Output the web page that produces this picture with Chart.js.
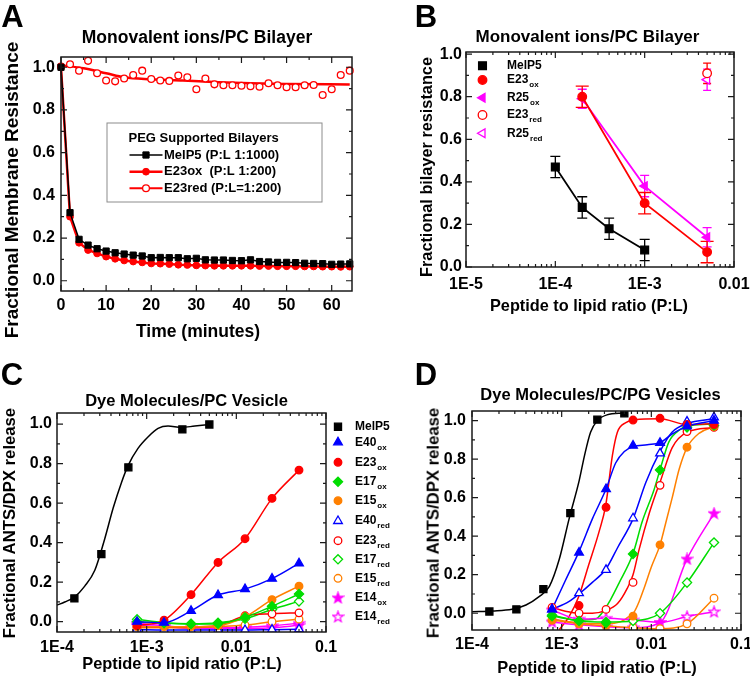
<!DOCTYPE html>
<html>
<head>
<meta charset="utf-8">
<title>Membrane permeabilisation panels</title>
<script src="https://cdn.jsdelivr.net/npm/chart.js@4.4.1/dist/chart.umd.min.js"></script>
<style>
  body { margin: 0; background: #fff; }
  #fig { position: relative; width: 750px; height: 678px; overflow: hidden;
         font-family: 'Liberation Sans', Arial, sans-serif; font-weight: bold; color: #000; }
  #fig canvas { position: absolute; }
  .lbl { position: absolute; white-space: nowrap; line-height: 1; transform: translate(-50%, -50%); }
  .rot { transform: translate(-50%, -50%) rotate(-90deg); }
  .tag { font-size: 31px; }
</style>
</head>
<body>
<div id="fig">
  <canvas id="chartA" width="372" height="345" style="left:0;top:0"></canvas>
  <canvas id="chartB" width="388" height="330" style="left:372px;top:0"></canvas>
  <canvas id="chartC" width="400" height="333" style="left:0;top:345px"></canvas>
  <canvas id="chartD" width="362" height="333" style="left:400px;top:345px"></canvas>

  <div class="lbl tag" style="left:12.5px;top:16px">A</div>
  <div class="lbl tag" style="left:426px;top:16px">B</div>
  <div class="lbl tag" style="left:12px;top:373.5px">C</div>
  <div class="lbl tag" style="left:426px;top:373.5px">D</div>

  <div class="lbl" style="left:197px;top:38px;font-size:17.5px">Monovalent ions/PC Bilayer</div>
  <div class="lbl" style="left:587.5px;top:36px;font-size:17px">Monovalent ions/PC Bilayer</div>
  <div class="lbl" style="left:186.5px;top:400px;font-size:16.5px">Dye Molecules/PC Vesicle</div>
  <div class="lbl" style="left:600.5px;top:393.5px;font-size:16.5px">Dye Molecules/PC/PG Vesicles</div>

  <div class="lbl" style="left:198px;top:331.5px;font-size:17.5px">Time (minutes)</div>
  <div class="lbl rot" style="left:10.5px;top:190px;font-size:19px">Fractional Membrane Resistance</div>
  <div class="lbl" style="left:589px;top:305px;font-size:16.3px">Peptide to lipid ratio (P:L)</div>
  <div class="lbl rot" style="left:426px;top:167px;font-size:16.3px">Fractional bilayer resistance</div>
  <div class="lbl" style="left:182px;top:663px;font-size:16.4px">Peptide to lipid ratio (P:L)</div>
  <div class="lbl rot" style="left:10px;top:522.5px;font-size:16.7px">Fractional ANTS/DPX release</div>
  <div class="lbl" style="left:597px;top:667px;font-size:16.4px">Peptide to lipid ratio (P:L)</div>
  <div class="lbl rot" style="left:433.5px;top:522.5px;font-size:16.7px">Fractional ANTS/DPX release</div>
</div>

<script>
// ── Data: panel A (resistance vs time) ───────────────────────────────────────
const A_TIME   = [0,2,4,6,8,10,12,14,16,18,20,22,24,26,28,30,32,34,36,38,40,42,44,46,48,50,52,54,56,58,60,62,64];
const A_MELP5  = [1.0,0.319,0.194,0.167,0.15,0.139,0.131,0.125,0.12,0.116,0.108,0.109,0.108,0.108,0.103,0.105,0.098,0.097,0.097,0.095,0.094,0.098,0.09,0.088,0.086,0.086,0.085,0.082,0.081,0.08,0.077,0.078,0.079];
const A_E23OX  = [1.0,0.30,0.178,0.144,0.128,0.113,0.103,0.095,0.09,0.086,0.081,0.08,0.078,0.075,0.074,0.072,0.071,0.07,0.07,0.07,0.07,0.07,0.069,0.069,0.068,0.068,0.068,0.067,0.067,0.066,0.066,0.065,0.066];
const A_E23RED = [1.003,1.014,0.984,1.03,0.972,0.938,0.934,0.947,0.964,0.984,0.945,0.938,0.936,0.961,0.953,0.897,0.947,0.92,0.916,0.916,0.913,0.911,0.909,0.925,0.916,0.906,0.906,0.916,0.917,0.87,0.897,0.964,0.984];
const A_FIT_X  = [0,5,10,14,20,27,35,42,50,64];
const A_FIT_Y  = [1.01,0.995,0.972,0.953,0.944,0.938,0.93,0.925,0.922,0.919];
const A_X_TICKS = [0,10,20,30,40,50,60];
const A_X_LABELS = ['0','10','20','30','40','50','60'];

// ── Data: panel B (resistance vs P:L) ────────────────────────────────────────
const B_MEL_X = [1e-4, 2e-4, 4e-4, 1e-3];
const B_MEL_Y = [0.47, 0.28, 0.18, 0.08];
const B_MEL_ERR = [0.05, 0.05, 0.05, 0.05];
const B_OX_X = [2e-4, 1e-3, 5e-3];
const B_E23OX_Y = [0.80, 0.30, 0.07];
const B_E23OX_ERR = [0.05, 0.05, 0.05];
const B_R25OX_Y = [0.79, 0.38, 0.14];
const B_R25OX_ERR = [0.045, 0.05, 0.045];
const B_RED_X = [5e-3];
const B_E23RED_Y = [0.91];
const B_E23RED_ERR = [0.048];
const B_R25RED_Y = [0.88];
const B_R25RED_ERR = [0.05];
const B_X_TICKS = [1e-5, 1e-4, 1e-3, 1e-2];
const B_X_LABELS = ['1E-5', '1E-4', '1E-3', '0.01'];

// ── Data: panels C and D (dye release vs P:L) ────────────────────────────────
const PL_X = [7.8125e-4, 1.5625e-3, 3.125e-3, 6.25e-3, 0.0125, 0.025, 0.05];
const CD_X_TICKS = [1e-4, 1e-3, 1e-2, 1e-1];
const CD_X_LABELS = ['1E-4', '1E-3', '0.01', '0.1'];

const C_MEL_X = [1.5625e-4, 3.125e-4, 6.25e-4, 2.5e-3, 5e-3];
const C_MEL_Y = [0.118, 0.342, 0.781, 0.973, 0.998];
const C_MEL_FIT_X = [1e-4,1.22e-4,1.58e-4,2.04e-4,2.64e-4,3.41e-4,4.23e-4,5.24e-4,6.2e-4,8.0e-4,1.04e-3,1.34e-3,1.73e-3,2.44e-3,3.44e-3,5e-3];
const C_MEL_FIT_Y = [0.084,0.10,0.126,0.18,0.26,0.42,0.575,0.705,0.79,0.877,0.936,0.978,0.99,0.983,0.99,0.997];
const C_E40OX  = [0.0, -0.005, 0.055, 0.135, 0.165, 0.218, 0.295];
const C_E23OX  = [-0.02, 0.008, 0.137, 0.30, 0.42, 0.624, 0.767];
const C_E17OX  = [0.0, -0.008, -0.012, -0.01, 0.022, 0.078, 0.14];
const C_E15OX  = [-0.025, -0.025, -0.025, -0.02, 0.025, 0.112, 0.18];
const C_E40RED = [-0.04, -0.042, -0.042, -0.042, -0.042, -0.04, -0.038];
const C_E23RED = [-0.025, -0.025, -0.025, -0.02, 0.03, 0.04, 0.045];
const C_E17RED = [0.012, -0.005, -0.01, -0.005, 0.015, 0.062, 0.103];
const C_E15RED = [-0.03, -0.03, -0.03, -0.025, -0.017, 0.0, 0.013];
const C_E14OX  = [-0.018, -0.025, -0.034, -0.035, -0.034, -0.03, -0.018];
const C_E14RED = [-0.008, -0.02, -0.03, -0.03, -0.028, -0.02, -0.008];

const D_MEL_X = [1.5625e-4, 3.125e-4, 6.25e-4, 1.25e-3, 2.5e-3, 5e-3];
const D_MEL_Y = [0.009, 0.02, 0.125, 0.52, 1.005, 1.038];
const D_E40OX  = [0.02, 0.315, 0.645, 0.87, 0.885, 0.97, 1.0];
const D_E23OX  = [null, 0.04, 0.55, 1.003, 1.012, 0.98, 0.98];
const D_E17OX  = [-0.015, -0.04, -0.05, 0.308, 0.744, 0.965, 0.975];
const D_E15OX  = [-0.035, -0.055, -0.06, -0.015, 0.355, 0.862, 0.969];
const D_E40RED = [0.02, 0.104, 0.225, 0.493, 0.83, 0.995, 1.017];
const D_E23RED = [0.03, 0.0, 0.02, 0.16, 0.664, 0.943, 0.965];
const D_E17RED = [-0.01, -0.04, -0.045, -0.04, 0.0, 0.159, 0.367];
const D_E15RED = [-0.035, -0.055, -0.065, -0.075, -0.08, -0.055, 0.078];
const D_E14OX  = [-0.045, -0.06, -0.07, -0.075, -0.048, 0.282, 0.519];
const D_E14RED = [0.017, -0.03, -0.026, -0.035, -0.048, -0.017, 0.008];

// fitted curves
const D_MEL_FIT_X = [1e-4,1.7e-4,2.8e-4,4e-4,5.6e-4,7.3e-4,9.4e-4,1.21e-3,1.57e-3,1.8e-3,2.1e-3,2.5e-3,3.2e-3,5e-3];
const D_MEL_FIT_Y = [0.008,0.012,0.021,0.043,0.086,0.14,0.28,0.49,0.69,0.82,0.94,1.0,1.03,1.04];
const D_E40OX_FIT_X = [7.8e-4,1.1e-3,1.56e-3,2.2e-3,3.125e-3,4.0e-3,5e-3,6.25e-3,9e-3,0.0125,0.017,0.025,0.05];
const D_E40OX_FIT_Y = [0.02,0.17,0.32,0.49,0.645,0.78,0.84,0.865,0.875,0.885,0.93,0.97,1.0];
const D_E40RED_FIT_X = [7.8e-4,1.2e-3,1.56e-3,2.2e-3,3.125e-3,4.2e-3,6.25e-3,8.7e-3,0.0125,0.017,0.025,0.05];
const D_E40RED_FIT_Y = [0.02,0.06,0.10,0.16,0.23,0.34,0.49,0.68,0.84,0.94,0.985,1.01];
const D_E23OX_FIT_X = [9.4e-4,1.2e-3,1.56e-3,2.0e-3,2.6e-3,3.1e-3,3.68e-3,4.18e-3,5.2e-3,6.5e-3,0.0125,0.025,0.05];
const D_E23OX_FIT_Y = [-0.085,-0.02,0.09,0.25,0.42,0.56,0.82,0.94,0.99,1.005,1.01,0.98,0.985];
const D_E23RED_FIT_X = [7.8e-4,1.1e-3,1.56e-3,2.2e-3,3.125e-3,4.2e-3,5.4e-3,6.25e-3,7.3e-3,9.5e-3,0.0112,0.0125,0.0171,0.025,0.05];
const D_E23RED_FIT_Y = [0.03,0.01,0.0,0.0,0.015,0.05,0.13,0.2,0.33,0.52,0.62,0.68,0.86,0.94,0.965];
const D_E17OX_FIT_X = [7.8e-4,1.56e-3,2.4e-3,2.8e-3,3.5e-3,4.4e-3,6.25e-3,7.9e-3,0.0107,0.0125,0.0157,0.0204,0.028,0.05];
const D_E17OX_FIT_Y = [-0.015,-0.035,-0.03,0.0,0.07,0.16,0.31,0.475,0.64,0.745,0.89,0.95,0.975,0.983];
const D_E15OX_FIT_X = [7.8e-4,1.56e-3,3.125e-3,4.5e-3,5.5e-3,6.5e-3,7.3e-3,8.3e-3,0.01,0.0125,0.0145,0.0171,0.0205,0.025,0.034,0.05];
const D_E15OX_FIT_Y = [-0.03,-0.05,-0.055,-0.045,-0.02,0.01,0.06,0.13,0.24,0.355,0.47,0.6,0.75,0.86,0.934,0.968];

const Y_TICKS  = [0, 0.2, 0.4, 0.6, 0.8, 1.0];
const Y_LABELS = ['0.0', '0.2', '0.4', '0.6', '0.8', '1.0'];
const Y_MINOR  = [0.1, 0.3, 0.5, 0.7, 0.9];

// ── Look ─────────────────────────────────────────────────────────────────────
const FONT = "'Liberation Sans', Arial, sans-serif";
Chart.defaults.font.family = FONT;
Chart.defaults.font.weight = 'bold';
Chart.defaults.font.size = 16;
Chart.defaults.color = '#000';
Chart.defaults.animation = false;

const LOOK = {
  MelP5:  { color: '#000000', shape: 'rect',     filled: true  },
  E40ox:  { color: '#0000ff', shape: 'triangle', filled: true  },
  E23ox:  { color: '#ff0000', shape: 'circle',   filled: true  },
  E17ox:  { color: '#00dd00', shape: 'rectRot',  filled: true  },
  E15ox:  { color: '#ff8000', shape: 'circle',   filled: true  },
  E40red: { color: '#0000ff', shape: 'triangle', filled: false },
  E23red: { color: '#ff0000', shape: 'circle',   filled: false },
  E17red: { color: '#00dd00', shape: 'rectRot',  filled: false },
  E15red: { color: '#ff8000', shape: 'circle',   filled: false },
  E14ox:  { color: '#ff00ff', shape: 'star',     filled: true  },
  E14red: { color: '#ff00ff', shape: 'star',     filled: false },
  R25ox:  { color: '#ff00ff', shape: 'triLeft',  filled: true  },
  R25red: { color: '#ff00ff', shape: 'triLeft',  filled: false },
};
const SIZE = { rect: 5, triangle: 5, triLeft: 5, circle: 3.8, rectRot: 4.6, star: 5 };

function starImage(color, filled) {
  const c = document.createElement('canvas');
  c.width = c.height = 13;
  const g = c.getContext('2d');
  g.beginPath();
  for (let i = 0; i < 10; i++) {
    const r = i % 2 ? 2.3 : 5.6;
    const a = -Math.PI / 2 + i * Math.PI / 5;
    g.lineTo(6.5 + r * Math.cos(a), 6.9 + r * Math.sin(a));
  }
  g.closePath();
  g.fillStyle = filled ? color : '#fff';
  g.fill();
  g.strokeStyle = color;
  g.lineWidth = 1.2;
  g.stroke();
  return c;
}

function logMinors(lo, hi) {
  const out = [];
  for (let e = lo; e < hi; e++) for (let k = 2; k < 10; k++) out.push(k * Math.pow(10, e));
  return out;
}

function pts(xs, ys) {
  return xs.map((x, i) => ({ x, y: ys[i] })).filter(p => p.y !== null);
}

function series(name, xs, ys, extra) {
  const look = LOOK[name];
  const parts = name.match(/^(.*?)(ox|red)?$/);
  return Object.assign({
    keyLabel: parts[1], keySub: parts[2] || '',
    data: pts(xs, ys),
    showLine: false,
    borderColor: look.color, borderWidth: 1.5,
    pointStyle: look.shape === 'star' ? starImage(look.color, look.filled)
              : look.shape === 'triLeft' ? 'triangle' : look.shape,
    pointRotation: look.shape === 'triLeft' ? -90 : 0,
    pointRadius: SIZE[look.shape],
    pointBackgroundColor: look.filled ? look.color : '#ffffff',
    pointBorderColor: look.color,
    pointBorderWidth: 1.3,
    cubicInterpolationMode: 'monotone',
  }, extra || {});
}

function fit(color, xs, ys, width) {
  return { data: pts(xs, ys), showLine: true, borderColor: color, borderWidth: width || 1.5,
           pointRadius: 0, cubicInterpolationMode: 'monotone' };
}

// ── Plugins ──────────────────────────────────────────────────────────────────
// box round the plot with inward major/minor ticks on all four sides
const frame = {
  id: 'frame',
  afterDatasetsDraw(chart, args, opts) {
    const { ctx, chartArea: a, scales: { x, y } } = chart;
    ctx.save();
    ctx.strokeStyle = '#1a1a1a';
    ctx.lineWidth = 1.5;
    ctx.strokeRect(a.left, a.top, a.right - a.left, a.bottom - a.top);
    ctx.lineWidth = 1.2;
    ctx.beginPath();
    const xt = (v, len) => {
      const p = x.getPixelForValue(v);
      ctx.moveTo(p, a.bottom); ctx.lineTo(p, a.bottom - len);
      ctx.moveTo(p, a.top);    ctx.lineTo(p, a.top + len);
    };
    const yt = (v, len) => {
      const p = y.getPixelForValue(v);
      ctx.moveTo(a.left, p);  ctx.lineTo(a.left + len, p);
      ctx.moveTo(a.right, p); ctx.lineTo(a.right - len, p);
    };
    x.ticks.forEach(t => xt(t.value, 6));
    y.ticks.forEach(t => yt(t.value, 6));
    (opts.xMinor || []).filter(v => v > x.min && v < x.max).forEach(v => xt(v, 3));
    (opts.yMinor || []).filter(v => v > y.min && v < y.max).forEach(v => yt(v, 3));
    ctx.stroke();
    ctx.restore();
  }
};

const errorBars = {
  id: 'errorBars',
  beforeDatasetsDraw(chart) {
    const { ctx, scales: { y } } = chart;
    const sets = chart.data.datasets;
    for (let i = sets.length - 1; i >= 0; i--) {
      const ds = sets[i];
      if (!ds.errs) continue;
      const meta = chart.getDatasetMeta(i);
      ctx.save();
      ctx.strokeStyle = ds.borderColor;
      ctx.lineWidth = 1.3;
      meta.data.forEach((p, j) => {
        const v = ds.data[j].y, e = ds.errs[j], c = ds.cap || 5;
        const t = y.getPixelForValue(v + e), b = y.getPixelForValue(v - e);
        ctx.beginPath();
        ctx.moveTo(p.x, t); ctx.lineTo(p.x, b);
        ctx.moveTo(p.x - c, t); ctx.lineTo(p.x + c, t);
        ctx.moveTo(p.x - c, b); ctx.lineTo(p.x + c, b);
        ctx.stroke();
      });
      ctx.restore();
    }
  }
};

const drawMark = (Chart.helpers && Chart.helpers.drawPoint) || function (ctx, o, x, y) {
  ctx.beginPath(); ctx.arc(x, y, o.radius, 0, Math.PI * 2); ctx.fill(); ctx.stroke();
};

// legend built from the datasets that carry a keyLabel
const key = {
  id: 'key',
  afterDraw(chart, args, o) {
    if (!o.rows) return;
    const ctx = chart.ctx;
    const items = chart.data.datasets.filter(d => d.keyLabel);
    ctx.save();
    if (o.box) {
      ctx.strokeStyle = '#8c8c8c'; ctx.lineWidth = 1;
      ctx.strokeRect(o.box[0], o.box[1], o.box[2], o.box[3]);
    }
    ctx.textBaseline = 'middle';
    ctx.textAlign = 'left';
    ctx.fillStyle = '#000';
    if (o.title) { ctx.font = o.font; ctx.fillText(o.title, o.titleX, o.titleY); }
    items.forEach((d, i) => {
      const yy = o.rows[i];
      if (o.lineTo) {
        ctx.strokeStyle = d.borderColor; ctx.lineWidth = d.borderWidth;
        ctx.beginPath(); ctx.moveTo(o.lineFrom, yy); ctx.lineTo(o.lineTo, yy); ctx.stroke();
      }
      ctx.fillStyle = d.pointBackgroundColor;
      ctx.strokeStyle = d.pointBorderColor;
      ctx.lineWidth = d.pointBorderWidth;
      drawMark(ctx, { pointStyle: d.pointStyle, radius: d.pointRadius, rotation: d.pointRotation || 0,
                      borderWidth: d.pointBorderWidth }, o.markX, yy);
      ctx.fillStyle = '#000';
      ctx.font = o.font;
      ctx.fillText(d.keyLabel, o.textX, yy);
      if (d.keySub) {
        const w = ctx.measureText(d.keyLabel).width;
        ctx.font = o.subFont;
        ctx.fillText(d.keySub, o.textX + w + 1, yy + 5);
      }
      if (d.keyNote) { ctx.font = o.font; ctx.fillText(d.keyNote, o.noteX[i], yy); }
    });
    ctx.restore();
  }
};

// ── Chart factory ────────────────────────────────────────────────────────────
function panel(id, o, datasets, keyOpts) {
  return new Chart(document.getElementById(id), {
    type: 'scatter',
    data: { datasets },
    options: {
      responsive: false,
      animation: false,
      layout: { padding: { left: 0, top: o.top, right: o.right, bottom: 0 } },
      scales: {
        x: {
          type: o.xType, min: o.xMin, max: o.xMax,
          grid: { display: false, drawTicks: false }, border: { display: false },
          afterFit: s => { s.height = o.xHeight; },
          afterBuildTicks: s => { s.ticks = o.xTicks.map(v => ({ value: v })); },
          ticks: { padding: o.xPad, autoSkip: false, maxRotation: 0, color: '#000',
                   font: { size: 16, weight: 'bold' }, callback: (v, i) => o.xLabels[i] },
        },
        y: {
          type: 'linear', min: o.yMin, max: o.yMax,
          grid: { display: false, drawTicks: false }, border: { display: false },
          afterFit: s => { s.width = o.yWidth; },
          afterBuildTicks: s => { s.ticks = Y_TICKS.map(v => ({ value: v })); },
          ticks: { padding: o.yPad, autoSkip: false, color: '#000',
                   font: { size: 16, weight: 'bold' }, callback: (v, i) => Y_LABELS[i] },
        },
      },
      plugins: {
        legend: { display: false },
        tooltip: { enabled: false },
        frame: { xMinor: o.xMinor, yMinor: Y_MINOR },
        key: keyOpts || {},
      },
    },
    plugins: [frame, errorBars, key],
  });
}

// ── Panel A ──────────────────────────────────────────────────────────────────
panel('chartA', {
  top: 57, right: 20, xHeight: 54, yWidth: 61, xPad: 4.5, yPad: 6,
  xType: 'linear', xMin: 0, xMax: 64.5, xTicks: A_X_TICKS, xLabels: A_X_LABELS,
  xMinor: [5, 15, 25, 35, 45, 55], yMin: -0.048, yMax: 1.048,
}, [
  series('MelP5', A_TIME, A_MELP5, { keyLabel: 'MelP5', keySub: '', keyNote: '(P:L 1:1000)', showLine: true,
    cubicInterpolationMode: 'default', pointRadius: 4.4, pointBorderWidth: 1, clip: false }),
  series('E23ox', A_TIME, A_E23OX, { keyLabel: 'E23ox', keySub: '', keyNote: '(P:L 1:200)', showLine: true,
    borderWidth: 2.5, cubicInterpolationMode: 'default', pointRadius: 3.4, pointBorderWidth: 1, clip: false }),
  series('E23red', A_TIME, A_E23RED, { keyLabel: 'E23red', keySub: '', keyNote: '(P:L=1:200)',
    borderWidth: 2, pointRadius: 3.4, pointBorderWidth: 1.3, clip: false }),
  Object.assign(fit('#ff0000', A_FIT_X, A_FIT_Y, 2.5), { clip: false }),
], {
  box: [107, 123, 215, 79], title: 'PEG Supported Bilayers', titleX: 128.5, titleY: 138.5,
  rows: [155, 171.7, 188.3], lineFrom: 129.5, lineTo: 162.5, markX: 146, textX: 164,
  noteX: [205.5, 209.5, 211], font: 'bold 13px ' + FONT, subFont: 'bold 8px ' + FONT,
});

// ── Panel B ──────────────────────────────────────────────────────────────────
panel('chartB', {
  top: 52, right: 26, xHeight: 63, yWidth: 94, xPad: 7.5, yPad: 4,
  xType: 'logarithmic', xMin: 1e-5, xMax: 1e-2, xTicks: B_X_TICKS, xLabels: B_X_LABELS,
  xMinor: logMinors(-5, -2), yMin: 0, yMax: 1.01,
}, [
  series('MelP5', B_MEL_X, B_MEL_Y, { showLine: true, borderWidth: 1.8, errs: B_MEL_ERR, cap: 5,
    cubicInterpolationMode: 'default', pointRadius: 5.5, clip: false }),
  series('E23ox', B_OX_X, B_E23OX_Y, { showLine: true, borderWidth: 1.8, errs: B_E23OX_ERR, cap: 6.5,
    cubicInterpolationMode: 'default', pointRadius: 4.3, clip: false }),
  series('R25ox', B_OX_X, B_R25OX_Y, { showLine: true, borderWidth: 1.8, errs: B_R25OX_ERR, cap: 4.5,
    cubicInterpolationMode: 'default', pointRadius: 5, clip: false }),
  series('E23red', B_RED_X, B_E23RED_Y, { errs: B_E23RED_ERR, cap: 4, pointRadius: 4.3, clip: false }),
  series('R25red', B_RED_X, B_R25RED_Y, { errs: B_R25RED_ERR, cap: 4, pointRadius: 5, clip: false }),
], {
  rows: [65.7, 80, 97.7, 115, 133.3], markX: 110.5, textX: 135,
  font: 'bold 12px ' + FONT, subFont: 'bold 8px ' + FONT,
});

// ── Panel C ──────────────────────────────────────────────────────────────────
const lined = { showLine: true };
panel('chartC', {
  top: 68, right: 74, xHeight: 46, yWidth: 57, xPad: 6, yPad: 5,
  xType: 'logarithmic', xMin: 1e-4, xMax: 0.1, xTicks: CD_X_TICKS, xLabels: CD_X_LABELS,
  xMinor: logMinors(-4, -1), yMin: -0.052, yMax: 1.056,
}, [
  series('MelP5', C_MEL_X, C_MEL_Y),
  series('E40ox', PL_X, C_E40OX, lined),
  series('E23ox', PL_X, C_E23OX, lined),
  series('E17ox', PL_X, C_E17OX, lined),
  series('E15ox', PL_X, C_E15OX, lined),
  series('E40red', PL_X, C_E40RED, lined),
  series('E23red', PL_X, C_E23RED, lined),
  series('E17red', PL_X, C_E17RED, lined),
  series('E15red', PL_X, C_E15RED, lined),
  series('E14ox', PL_X, C_E14OX, lined),
  series('E14red', PL_X, C_E14RED, lined),
  fit('#000000', C_MEL_FIT_X, C_MEL_FIT_Y),
], {
  rows: [81.7, 97.3, 117.3, 136.7, 155.7, 176, 195.7, 214.3, 233.3, 252.7, 271.7],
  markX: 338, textX: 355, font: 'bold 12px ' + FONT, subFont: 'bold 8px ' + FONT,
});

// ── Panel D ──────────────────────────────────────────────────────────────────
const noKey = { keyLabel: null };
const noKeyLined = { keyLabel: null, showLine: true };
panel('chartD', {
  top: 66, right: 21, xHeight: 48, yWidth: 72, xPad: 4.5, yPad: 6,
  xType: 'logarithmic', xMin: 1e-4, xMax: 0.1, xTicks: CD_X_TICKS, xLabels: CD_X_LABELS,
  xMinor: logMinors(-4, -1), yMin: -0.087, yMax: 1.05,
}, [
  series('MelP5', D_MEL_X, D_MEL_Y, noKey),
  series('E40ox', PL_X, D_E40OX, noKey),
  series('E23ox', PL_X, D_E23OX, noKey),
  series('E17ox', PL_X, D_E17OX, noKey),
  series('E15ox', PL_X, D_E15OX, noKey),
  series('E40red', PL_X, D_E40RED, noKey),
  series('E23red', PL_X, D_E23RED, noKey),
  series('E17red', PL_X, D_E17RED, noKeyLined),
  series('E15red', PL_X, D_E15RED, noKeyLined),
  series('E14ox', PL_X, D_E14OX, noKeyLined),
  series('E14red', PL_X, D_E14RED, noKeyLined),
  fit('#000000', D_MEL_FIT_X, D_MEL_FIT_Y),
  fit('#0000ff', D_E40OX_FIT_X, D_E40OX_FIT_Y),
  fit('#0000ff', D_E40RED_FIT_X, D_E40RED_FIT_Y),
  fit('#ff0000', D_E23OX_FIT_X, D_E23OX_FIT_Y),
  fit('#ff0000', D_E23RED_FIT_X, D_E23RED_FIT_Y),
  fit('#00dd00', D_E17OX_FIT_X, D_E17OX_FIT_Y),
  fit('#ff8000', D_E15OX_FIT_X, D_E15OX_FIT_Y),
]);
</script>
</body>
</html>
